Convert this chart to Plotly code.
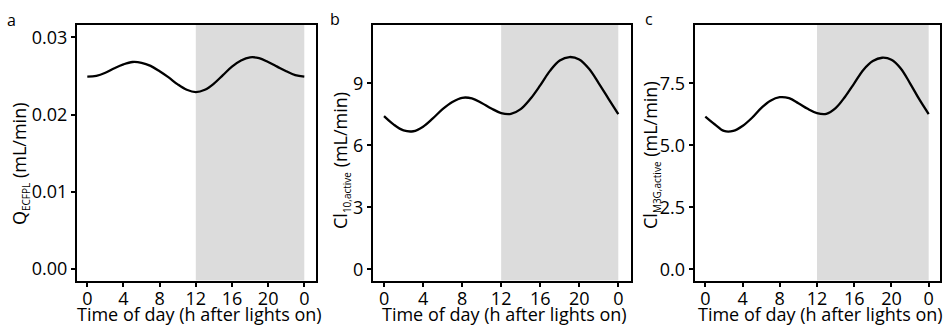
import plotly.graph_objects as go

W, H = 952, 326

# ---- data ----
hours = list(range(25))
tick_vals = [0, 4, 8, 12, 16, 20, 24]
tick_text = ["0", "4", "8", "12", "16", "20", "0"]

q_ecfpl = [0.0249, 0.0250, 0.0254, 0.0260, 0.0265, 0.0268, 0.0267, 0.0263, 0.0256,
           0.0248, 0.0239, 0.0232, 0.0229, 0.0232, 0.0240, 0.0251, 0.0262, 0.0270,
           0.0274, 0.0273, 0.0268, 0.0262, 0.0256, 0.0251, 0.0249]
cl_10 = [7.41, 7.00, 6.72, 6.68, 6.90, 7.30, 7.75, 8.10, 8.30, 8.27, 8.05, 7.78,
         7.56, 7.52, 7.75, 8.25, 8.90, 9.60, 10.10, 10.27, 10.15, 9.70, 9.00, 8.25, 7.51]
cl_m3g = [6.16, 5.85, 5.58, 5.58, 5.78, 6.10, 6.50, 6.80, 6.94, 6.90, 6.70, 6.47,
          6.30, 6.27, 6.50, 6.95, 7.50, 8.05, 8.40, 8.53, 8.45, 8.10, 7.50, 6.85, 6.26]

dark_start, dark_end = 12, 24

y_ticks_a = [0.00, 0.01, 0.02, 0.03]
y_text_a = ["0.00", "0.01", "0.02", "0.03"]
y_ticks_b = [0, 3, 6, 9]
y_text_b = ["0", "3", "6", "9"]
y_ticks_c = [0.0, 2.5, 5.0, 7.5]
y_text_c = ["0.0", "2.5", "5.0", "7.5"]

SUB = '<sub><span style="font-size:10px">{}</span></sub>'
panels = [
    dict(y=q_ecfpl, xdom=(76.9, 315.6), yr=(-0.00149, 0.03159), yt=y_ticks_a, ytt=y_text_a,
         title="Q" + SUB.format("ECFPL") + " (mL/min)", tx=20, ty=164, letter="a", lx=11, ly=20),
    dict(y=cl_10, xdom=(372.8, 630.5), yr=(-0.54, 11.82), yt=y_ticks_b, ytt=y_text_b,
         title="Cl" + SUB.format("10,active") + " (mL/min)", tx=341, ty=161, letter="b", lx=335, ly=19),
    dict(y=cl_m3g, xdom=(694.6, 940.3), yr=(-0.45, 9.85), yt=y_ticks_c, ytt=y_text_c,
         title="Cl" + SUB.format("M3G,active") + " (mL/min)", tx=651, ty=155, letter="c", lx=649, ly=19),
]

FONT = "Open Sans"
fig = go.Figure()
ytop, ybot = 25, 280.5
shapes, annots = [], []
for i, p in enumerate(panels):
    n = "" if i == 0 else str(i + 1)
    xa, ya = "x" + n, "y" + n
    fig.add_trace(go.Scatter(x=hours, y=p["y"], mode="lines", xaxis=xa, yaxis=ya,
                             line=dict(color="black", width=2.3, shape="spline", smoothing=1.0),
                             showlegend=False, hoverinfo="skip"))
    shapes.append(dict(type="rect", xref=xa, yref=ya + " domain", x0=dark_start, x1=dark_end,
                       y0=0, y1=1, fillcolor="#dcdcdc", line=dict(width=0), layer="below"))
    axcommon = dict(showgrid=False, zeroline=False, showline=True, linecolor="black",
                    linewidth=2, mirror=True, ticks="outside", ticklen=4, tickwidth=1.6,
                    tickcolor="black", tickfont=dict(family=FONT, size=18, color="black"))
    fig.update_layout(**{
        "xaxis" + n: dict(domain=[p["xdom"][0] / W, p["xdom"][1] / W], range=[-1.15, 25.25],
                          tickvals=tick_vals, ticktext=tick_text, anchor=ya,
                          ticklabelstandoff=-3, **axcommon),
        "yaxis" + n: dict(domain=[1 - ybot / H, 1 - ytop / H], range=list(p["yr"]),
                          tickvals=p["yt"], ticktext=p["ytt"], anchor=xa, **axcommon),
    })
    annots.append(dict(text=p["title"], x=p["tx"] / W, y=1 - p["ty"] / H, xref="paper",
                       yref="paper", textangle=-90, showarrow=False, xanchor="center",
                       yanchor="middle", borderpad=0,
                       font=dict(family=FONT, size=18, color="black")))
    annots.append(dict(text="Time of day (h after lights on)",
                       x=((p["xdom"][0] + p["xdom"][1]) / 2 + 3) / W, y=1 - 314 / H,
                       xref="paper", yref="paper", showarrow=False,
                       xanchor="center", yanchor="middle",
                       font=dict(family=FONT, size=18, color="black")))
    annots.append(dict(text=p["letter"], x=p["lx"] / W, y=1 - p["ly"] / H, xref="paper",
                       yref="paper", showarrow=False, xanchor="center", yanchor="middle",
                       font=dict(family=FONT, size=16, color="black")))

fig.update_layout(width=W, height=H, margin=dict(l=0, r=0, t=0, b=0),
                  paper_bgcolor="white", plot_bgcolor="white",
                  shapes=shapes, annotations=annots)
fig.write_html("out.html")
